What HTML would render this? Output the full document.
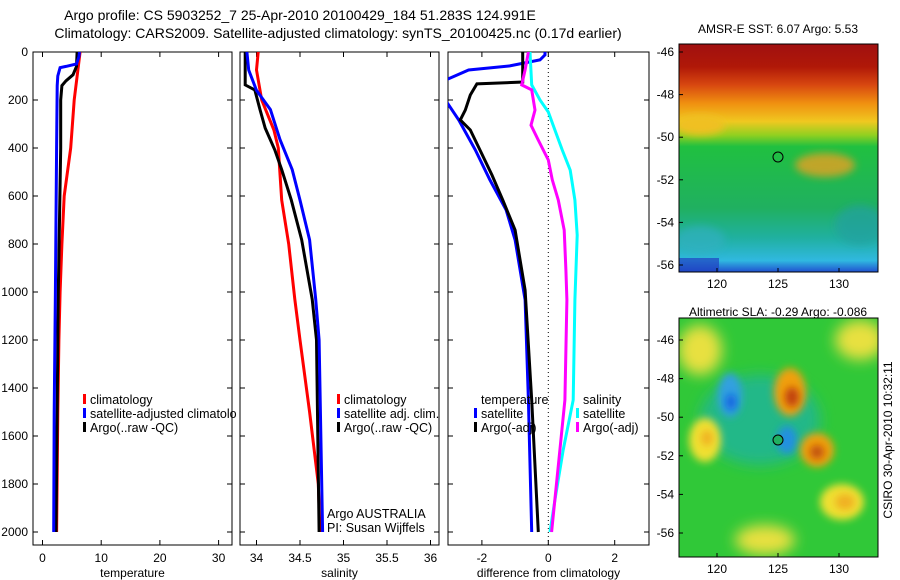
<!DOCTYPE html>
<html><head><meta charset="utf-8"><style>
body{margin:0;background:#fff;}
svg{display:block;font-family:"Liberation Sans",sans-serif;}
</style></head><body>
<svg id="fig" width="900" height="580" viewBox="0 0 900 580">
<defs>
<clipPath id="c1"><rect x="33" y="52" width="199" height="493"/></clipPath>
<clipPath id="c2"><rect x="240" y="52" width="199" height="493"/></clipPath>
<clipPath id="c3"><rect x="448" y="52" width="201" height="493"/></clipPath>
<linearGradient id="sst" x1="0" y1="0" x2="0" y2="1">
<stop offset="0" stop-color="#a01010"/><stop offset="0.1" stop-color="#b01808"/>
<stop offset="0.18" stop-color="#d84810"/><stop offset="0.26" stop-color="#f09010"/>
<stop offset="0.34" stop-color="#f0c820"/><stop offset="0.4" stop-color="#90d020"/>
<stop offset="0.45" stop-color="#20c040"/><stop offset="0.72" stop-color="#20b060"/>
<stop offset="0.85" stop-color="#20b0a0"/><stop offset="0.95" stop-color="#30b8e0"/>
<stop offset="1" stop-color="#2050d0"/></linearGradient>
<filter id="bl" x="-50%" y="-50%" width="200%" height="200%"><feGaussianBlur stdDeviation="7"/></filter>
<filter id="bl2" x="-50%" y="-50%" width="200%" height="200%"><feGaussianBlur stdDeviation="4"/></filter>
<clipPath id="m1"><rect x="679" y="44" width="199" height="228"/></clipPath>
<clipPath id="m2"><rect x="679" y="318" width="199" height="239"/></clipPath>
</defs>
<text x="300" y="20" text-anchor="middle" font-size="14">Argo profile: CS 5903252_7 25-Apr-2010 20100429_184 51.283S 124.991E</text>
<text x="338" y="38" text-anchor="middle" font-size="14">Climatology: CARS2009. Satellite-adjusted climatology: synTS_20100425.nc (0.17d earlier)</text>

<g clip-path="url(#m1)">
<rect x="679" y="44" width="199" height="228" fill="url(#sst)"/>
<ellipse cx="825" cy="165" rx="30" ry="12" fill="#e8a020" filter="url(#bl2)" opacity="0.8"/>
<ellipse cx="700" cy="125" rx="25" ry="10" fill="#f0c020" filter="url(#bl2)"/>
<ellipse cx="860" cy="225" rx="25" ry="20" fill="#20a0a0" filter="url(#bl2)" opacity="0.7"/>
<ellipse cx="700" cy="240" rx="25" ry="14" fill="#30b0c0" filter="url(#bl2)" opacity="0.7"/>
<rect x="679" y="258" width="40" height="14" fill="#2040c0" opacity="0.7"/>
</g>
<rect x="679" y="44" width="199" height="228" fill="none" stroke="#000"/>
<circle cx="778" cy="157" r="5" fill="none" stroke="#000"/>
<text x="778" y="33" text-anchor="middle" font-size="12">AMSR-E SST: 6.07 Argo: 5.53</text>

<g clip-path="url(#m2)">
<rect x="679" y="318" width="199" height="239" fill="#30c838"/>
<ellipse cx="760" cy="420" rx="60" ry="45" fill="#20b888" filter="url(#bl)"/>
<ellipse cx="730" cy="395" rx="12" ry="22" fill="#30a0e0" filter="url(#bl2)"/>
<ellipse cx="731" cy="402" rx="5" ry="8" fill="#1060e0" filter="url(#bl2)"/>
<ellipse cx="787" cy="440" rx="10" ry="14" fill="#2090e0" filter="url(#bl2)"/>
<ellipse cx="790" cy="392" rx="16" ry="24" fill="#f0a010" filter="url(#bl2)"/>
<ellipse cx="792" cy="397" rx="7" ry="10" fill="#c04010" filter="url(#bl2)"/>
<ellipse cx="817" cy="450" rx="17" ry="17" fill="#f0a010" filter="url(#bl2)"/>
<ellipse cx="817" cy="452" rx="7" ry="7" fill="#c05010" filter="url(#bl2)"/>
<ellipse cx="705" cy="440" rx="16" ry="22" fill="#f0e030" filter="url(#bl2)"/>
<ellipse cx="707" cy="438" rx="6" ry="8" fill="#f0b020" filter="url(#bl2)"/>
<ellipse cx="842" cy="502" rx="22" ry="18" fill="#f0e030" filter="url(#bl2)"/>
<ellipse cx="845" cy="502" rx="10" ry="8" fill="#f0b020" filter="url(#bl2)"/>
<ellipse cx="765" cy="540" rx="30" ry="15" fill="#e8e040" filter="url(#bl)"/>
<ellipse cx="860" cy="340" rx="25" ry="20" fill="#e8e040" filter="url(#bl)"/>
<ellipse cx="700" cy="350" rx="22" ry="25" fill="#e8e040" filter="url(#bl)"/>
</g>
<rect x="679" y="318" width="199" height="239" fill="none" stroke="#000"/>
<circle cx="778" cy="440" r="5" fill="#20b060" stroke="#000"/>
<text x="778" y="316" text-anchor="middle" font-size="12">Altimetric SLA: -0.29 Argo: -0.086</text>
<text transform="translate(892,440) rotate(-90)" text-anchor="middle" font-size="12">CSIRO 30-Apr-2010 10:32:11</text>
<g id="dyn"></g>
</svg>
<script>
const depthTicks=[0,200,400,600,800,1000,1200,1400,1600,1800,2000];
const tTicks=[0,10,20,30];
const sTicks=[34,34.5,35,35.5,36];
const dTicks=[-2,0,2];
const mapLon=[120,125,130];
const sstLat=[-46,-48,-50,-52,-54,-56];
const slaLat=[-46,-48,-50,-52,-54,-56];
const tClim=[[0,6.4],[200,5.4],[400,4.8],[600,3.7],[800,3.3],[1000,3.0],[1200,2.8],[1500,2.6],[2000,2.4]];
const tSat=[[0,6.3],[20,6.2],[50,5.8],[60,4],[65,3.0],[100,2.6],[140,2.5],[400,2.4],[1000,2.2],[1500,2.0],[2000,1.9]];
const tArgo=[[0,5.9],[60,5.8],[95,5.2],[120,4],[140,3.3],[200,3.1],[400,3.1],[700,2.9],[1000,2.7],[2000,2.3]];
const sClim=[[0,34.02],[75,34.0],[200,34.06],[325,34.2],[400,34.25],[617,34.29],[800,34.37],[1030,34.44],[1200,34.5],[1500,34.61],[1800,34.71],[2000,34.73]];
const sSat=[[0,33.89],[75,33.91],[160,34.0],[240,34.16],[365,34.27],[490,34.41],[617,34.5],[783,34.61],[1030,34.68],[1200,34.72],[2000,34.76]];
const sArgo=[[0,33.87],[137,33.87],[158,33.98],[240,34.04],[317,34.1],[408,34.21],[490,34.29],[617,34.4],[783,34.52],[1030,34.64],[1200,34.69],[2000,34.72]];
const dTSat=[[0,-0.1],[12,-0.1],[33,-0.25],[58,-1.16],[75,-2.4],[117,-3.1],[200,-3.1],[283,-2.7],[408,-2.2],[533,-1.76],[658,-1.27],[783,-1.0],[1033,-0.7],[1450,-0.6],[2000,-0.5]];
const dTArgo=[[0,-0.77],[125,-0.77],[133,-2.15],[179,-2.35],[242,-2.5],[283,-2.65],[325,-2.35],[408,-2.06],[512,-1.7],[617,-1.37],[742,-1.0],[992,-0.7],[1450,-0.5],[2000,-0.3]];
const dSSat=[[0,-0.55],[137,-0.5],[200,-0.25],[250,0],[325,0.2],[408,0.42],[492,0.66],[617,0.8],[763,0.87],[1033,0.8],[1450,0.75],[1658,0.45],[1867,0.2],[2000,0.05]];
const dSArgo=[[0,-0.6],[75,-0.7],[137,-0.8],[158,-0.5],[242,-0.4],[305,-0.52],[367,-0.3],[450,0],[533,0.12],[617,0.3],[742,0.48],[908,0.53],[1033,0.56],[1450,0.5],[1658,0.35],[2000,0.1]];

const NS='http://www.w3.org/2000/svg';
const g=document.getElementById('dyn');
function mk(tag,attrs,parent){const e=document.createElementNS(NS,tag);for(const k in attrs)e.setAttribute(k,attrs[k]);(parent||g).appendChild(e);return e;}
const yD=d=>52+d*0.24;
const xT=v=>42.5+v*5.87;
const xS=v=>256.5+(v-34)*87;
const xDf=v=>548.3+v*33.2;
const panels=[{x0:33,x1:232,fx:xT,ticks:tTicks,lab:'temperature',name:'temperature-panel',clip:'c1'},
{x0:240,x1:439,fx:xS,ticks:sTicks,lab:'salinity',name:'salinity-panel',clip:'c2'},
{x0:448,x1:649,fx:xDf,ticks:dTicks,lab:'difference from climatology',name:'difference-panel',clip:'c3'}];
panels.forEach((p,i)=>{
  const r=mk('rect',{x:p.x0,y:52,width:p.x1-p.x0,height:493,fill:'none',stroke:'#000'});
  
  
  p.ticks.forEach(t=>{const x=p.fx(t);
    mk('line',{x1:x,x2:x,y1:545,y2:540,stroke:'#000'});mk('line',{x1:x,x2:x,y1:52,y2:57,stroke:'#000'});
    const tx=mk('text',{x:x,y:562,'text-anchor':'middle','font-size':12});tx.textContent=t;
    
    });
  depthTicks.forEach(d=>{const y=yD(d);
    mk('line',{x1:p.x0,x2:p.x0+5,y1:y,y2:y,stroke:'#000'});mk('line',{x1:p.x1,x2:p.x1-5,y1:y,y2:y,stroke:'#000'});
    if(i===0){const tx=mk('text',{x:28,y:y+4,'text-anchor':'end','font-size':12});tx.textContent=d;
      
      }});
  const al=mk('text',{x:(p.x0+p.x1)/2,y:577,'text-anchor':'middle','font-size':12});al.textContent=p.lab;
  
  
});
mk('line',{x1:xDf(0),x2:xDf(0),y1:52,y2:545,stroke:'#000','stroke-dasharray':'1,3'});
function line(data,fx,color,clip,name){
  const pts=data.map(d=>fx(d[1]).toFixed(1)+','+yD(d[0]).toFixed(1)).join(' ');
  const pl=mk('polyline',{points:pts,fill:'none',stroke:color,'stroke-width':3,'clip-path':'url(#'+clip+')'});
  
  
}
line(tClim,xT,'#f00','c1','temp-climatology-line');
line(tArgo,xT,'#000','c1','temp-argo-line');
line(tSat,xT,'#00f','c1','temp-satellite-line');
line(sClim,xS,'#f00','c2','sal-climatology-line');
line(sArgo,xS,'#000','c2','sal-argo-line');
line(sSat,xS,'#00f','c2','sal-satellite-line');
line(dTSat,xDf,'#00f','c3','diff-temp-satellite-line');
line(dTArgo,xDf,'#000','c3','diff-temp-argo-line');
line(dSSat,xDf,'#0ff','c3','diff-sal-satellite-line');
line(dSArgo,xDf,'#f0f','c3','diff-sal-argo-line');
function leg(x,y,color,text){
  if(color){const m=mk('rect',{x:x-7,y:y-10,width:3,height:10,fill:color});
    
    }
  const t=mk('text',{x:x,y:y,'font-size':12.5});t.textContent=text;
  
  
}
leg(90,404,'#f00','climatology');leg(90,418,'#00f','satellite-adjusted climatolo');leg(90,432,'#000','Argo(..raw -QC)');
leg(344,404,'#f00','climatology');leg(344,418,'#00f','satellite adj. clim.');leg(344,432,'#000','Argo(..raw -QC)');
leg(481,404,null,'temperature');leg(481,418,'#00f','satellite');leg(481,432,'#000','Argo(-adj)');
leg(583,404,null,'salinity');leg(583,418,'#0ff','satellite');leg(583,432,'#f0f','Argo(-adj)');
leg(327,518,null,'Argo AUSTRALIA');leg(327,532,null,'PI: Susan Wijffels');
const lx=v=>778+(v-125)*12.2;
[[44,272,sstLat,v=>52+(-46-v)*21.3],[318,557,slaLat,v=>340+(-46-v)*19.3]].forEach(([y0,y1,lats,fy])=>{
  lats.forEach(l=>{const y=fy(l);mk('line',{x1:679,x2:683,y1:y,y2:y,stroke:'#000'});
    const t=mk('text',{x:674,y:y+4,'text-anchor':'end','font-size':12});t.textContent=l;
    
    });
  mapLon.forEach(l=>{const x=lx(l);mk('line',{x1:x,x2:x,y1:y1,y2:y1-4,stroke:'#000'});
    const t=mk('text',{x:x,y:y1+16,'text-anchor':'middle','font-size':12});t.textContent=l;
    
    });
});
</script>
</body></html>
